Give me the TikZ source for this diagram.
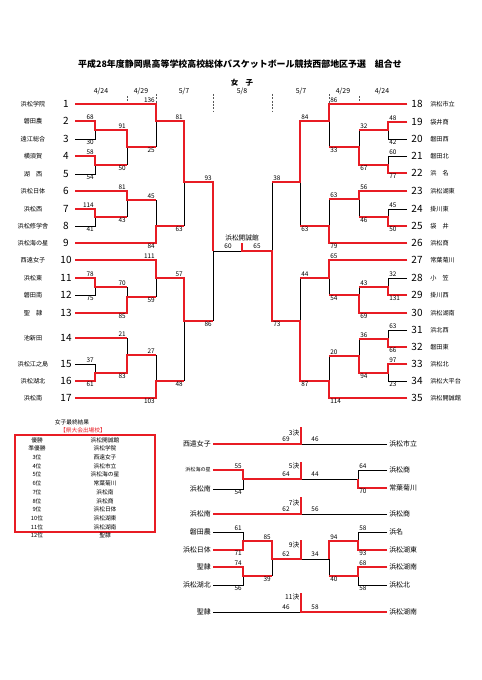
\documentclass[tikz,border=0pt]{standalone}
\usepackage{fontspec}
\setmainfont{Noto Sans CJK JP}
\definecolor{winred}{RGB}{232,28,36}

\begin{document}
\begin{tikzpicture}[
  x=0.75pt,
  y=-0.75pt,
  bracket/.style={draw=black, line width=0.6pt},
  winner/.style={draw=winred, line width=1.25pt},
  datetick/.style={draw=black!65, dash pattern=on 1.6pt off 0.9pt, line width=0.45pt},
  maintitle/.style={font=\fontsize{6.7}{8}\selectfont\bfseries, inner sep=0pt},
  datelabel/.style={font=\fontsize{5.2}{6}\selectfont, inner sep=0pt},
  seedno/.style={font=\fontsize{7.5}{8}\selectfont, inner sep=0pt},
  team/.style={font=\fontsize{4.6}{5}\selectfont, inner sep=0pt},
  lowteam/.style={font=\fontsize{5.2}{6}\selectfont, inner sep=0pt},
  score/.style={font=\fontsize{4.8}{5}\selectfont, inner sep=0.8pt},
  scoreul/.style={score, anchor=south east},
  scorell/.style={score, anchor=north east},
  scoreur/.style={score, anchor=south west},
  scorelr/.style={score, anchor=north west},
  scoremid/.style={score, anchor=south},
  rankmatch/.style={font=\fontsize{5}{6}\selectfont, inner sep=0pt, anchor=east},
  result/.style={font=\fontsize{4.3}{5}\selectfont, inner sep=0pt}
]
\path[use as bounding box, fill=white] (0,0) rectangle (481,680);

% ---------------------------------------------------------------------------
% Heading and round dates
% ---------------------------------------------------------------------------
\node[maintitle] (title) at (240,64) {平成28年度静岡県高等学校高校総体バスケットボール競技西部地区予選　組合せ};
\node[datelabel, font=\fontsize{5.6}{6}\selectfont\bfseries] (girls) at (242,83) {女　子};
\node[datelabel] (d1) at (101,91) {4/24};
\node[datelabel] (d2) at (141,91) {4/29};
\node[datelabel] (d3) at (184,91) {5/7};
\node[datelabel] (d4) at (242,91) {5/8};
\node[datelabel] (d5) at (301,91) {5/7};
\node[datelabel] (d6) at (343,91) {4/29};
\node[datelabel] (d7) at (382,91) {4/24};
\draw[datetick] (127,96) -- (127,101);
\draw[datetick] (156,94) -- (156,103);
\draw[datetick] (213,94) -- (213,112);
\draw[datetick] (272,94) -- (272,112);
\draw[datetick] (329,94) -- (329,103);
\draw[datetick] (359,96) -- (359,101);

% ---------------------------------------------------------------------------
% Seeds
% ---------------------------------------------------------------------------
\foreach \n/\y/\sch in {1/104/浜松学院, 2/121/磐田農, 3/139/遠江総合, 4/156/横須賀,
    5/174/湖　西, 6/191/浜松日体, 7/209/浜松西, 8/226/浜松修学舎, 9/243/浜松海の星,
    10/260/西遠女子, 11/278/浜松東, 12/295/磐田南, 13/313/聖　隷, 14/338/池新田,
    15/364/浜松江之島, 16/381/浜松湖北, 17/398/浜松南} {
  \node[seedno] (s\n) at (66,\y) {\n};
  \node[team] (t\n) at (33,\y) {\sch};
}
\foreach \n/\y/\sch in {18/104/浜松市立, 19/122/袋井商, 20/139/磐田西, 21/156/磐田北,
    22/173/浜　名, 23/191/浜松湖東, 24/209/掛川東, 25/226/袋　井, 26/243/浜松商,
    27/260/常葉菊川, 28/278/小　笠, 29/295/掛川西, 30/313/浜松湖南, 31/330/浜北西,
    32/347/磐田東, 33/364/浜松北, 34/381/浜松大平台, 35/398/浜松開誠館} {
  \node[seedno] (s\n) at (417,\y) {\n};
  \node[team, anchor=west] (t\n) at (430,\y) {\sch};
}

% ---------------------------------------------------------------------------
% Left half: bracket lines
% ---------------------------------------------------------------------------
\draw[bracket] (75,121) -| (95,139) -- (75,139) (95,130) -- (127,130);
\draw[bracket] (75,156) -| (95,174) -- (75,174) (95,165) -- (127,165);
\draw[bracket] (75,209) -| (95,226) -- (75,226) (95,217) -- (127,217);
\draw[bracket] (75,278) -| (95,295) -- (75,295) (95,287) -- (127,287);
\draw[bracket] (75,364) -| (95,381) -- (75,381) (95,373) -- (127,373);
\draw[bracket] (127,130) -- (127,165) (127,147) -- (156,147);
\draw[bracket] (75,191) -| (127,217) (127,200) -- (156,200);
\draw[bracket] (75,313) -| (127,287) (127,297) -- (156,297);
\draw[bracket] (75,338) -| (127,373) (127,355) -- (156,355);
\draw[bracket] (75,104) -| (156,147) (156,121) -- (184,121);
\draw[bracket] (75,243) -| (156,200) (156,226) -- (184,226);
\draw[bracket] (75,260) -| (156,297) (156,278) -- (184,278);
\draw[bracket] (75,398) -| (156,355) (156,381) -- (184,381);
\draw[bracket] (184,121) -- (184,226) (184,182) -- (213,182);
\draw[bracket] (184,278) -- (184,381) (184,321) -- (213,321);
\draw[bracket] (213,182) -- (213,321) (213,251) -- (272,251);

% winners' paths
\draw[winner] (75,104) -| (156,121) -| (184,182) -| (213,251);
\draw[winner] (75,121) -| (95,130) -| (127,147) -- (156,147);
\draw[winner] (75,156) -| (95,165) -- (127,165);
\draw[winner] (75,191) -| (127,200) -- (156,200);
\draw[winner] (75,209) -| (95,217) -- (127,217);
\draw[winner] (75,243) -| (156,226) -- (184,226);
\draw[winner] (75,260) -| (156,278) -| (184,321) -- (213,321);
\draw[winner] (75,278) -| (95,287) -- (127,287);
\draw[winner] (75,313) -| (127,297) -- (156,297);
\draw[winner] (75,338) -- (127,338);
\draw[winner] (75,381) -| (95,373) -| (127,355) -- (156,355);
\draw[winner] (75,398) -| (156,381) -- (184,381);

% scores
\node[scoreul] at (95,121) {68};  \node[scorell] at (95,139) {30};
\node[scoreul] at (95,156) {58};  \node[scorell] at (95,174) {54};
\node[scoreul] at (127,130) {91}; \node[scorell] at (127,165) {50};
\node[scoreul] at (156,104) {136}; \node[scorell] at (156,147) {25};
\node[scoreul] at (127,191) {81}; \node[scorell] at (127,217) {43};
\node[scoreul] at (95,209) {114}; \node[scorell] at (95,226) {41};
\node[scoreul] at (156,200) {45}; \node[scorell] at (156,243) {84};
\node[scoreul] at (184,121) {81}; \node[scorell] at (184,226) {63};
\node[scoreul] at (156,260) {111}; \node[scorell] at (156,297) {59};
\node[scoreul] at (95,278) {78};  \node[scorell] at (95,295) {75};
\node[scoreul] at (127,287) {70}; \node[scorell] at (127,313) {85};
\node[scoreul] at (127,338) {21}; \node[scorell] at (127,373) {83};
\node[scoreul] at (95,364) {37};  \node[scorell] at (95,381) {61};
\node[scoreul] at (156,355) {27}; \node[scorell] at (156,398) {103};
\node[scoreul] at (184,278) {57}; \node[scorell] at (184,381) {48};
\node[scoreul] at (213,182) {93}; \node[scorell] at (213,321) {86};

% ---------------------------------------------------------------------------
% Right half: bracket lines
% ---------------------------------------------------------------------------
\draw[bracket] (407,122) -| (388,139) -- (407,139) (388,130) -- (359,130);
\draw[bracket] (407,156) -| (388,173) -- (407,173) (388,165) -- (359,165);
\draw[bracket] (407,209) -| (388,226) -- (407,226) (388,217) -- (359,217);
\draw[bracket] (407,278) -| (388,295) -- (407,295) (388,287) -- (359,287);
\draw[bracket] (407,330) -| (388,347) -- (407,347) (388,339) -- (359,339);
\draw[bracket] (407,364) -| (388,381) -- (407,381) (388,373) -- (359,373);
\draw[bracket] (359,130) -- (359,165) (359,147) -- (329,147);
\draw[bracket] (407,191) -| (359,217) (359,199) -- (329,199);
\draw[bracket] (407,313) -| (359,287) (359,295) -- (329,295);
\draw[bracket] (359,339) -- (359,373) (359,356) -- (329,356);
\draw[bracket] (407,104) -| (329,147) (329,121) -- (300,121);
\draw[bracket] (407,243) -| (329,199) (329,226) -- (300,226);
\draw[bracket] (407,260) -| (329,295) (329,278) -- (300,278);
\draw[bracket] (407,398) -| (329,356) (329,381) -- (300,381);
\draw[bracket] (300,121) -- (300,226) (300,182) -- (272,182);
\draw[bracket] (300,278) -- (300,381) (300,321) -- (272,321);
\draw[bracket] (272,182) -- (272,321);

% winners' paths
\draw[winner] (407,104) -| (329,121) -| (300,182) -- (272,182);
\draw[winner] (407,122) -| (388,130) -- (359,130);
\draw[winner] (407,173) -| (388,165) -| (359,147) -- (329,147);
\draw[winner] (407,191) -| (359,199) -- (329,199);
\draw[winner] (407,226) -| (388,217) -- (359,217);
\draw[winner] (407,243) -| (329,226) -- (300,226);
\draw[winner] (407,260) -| (329,278) -- (300,278);
\draw[winner] (407,295) -| (388,287) -- (359,287);
\draw[winner] (407,313) -| (359,295) -- (329,295);
\draw[winner] (407,347) -| (388,339) -- (359,339);
\draw[winner] (407,364) -| (388,373) -| (359,356) -- (329,356);
\draw[winner] (407,398) -| (329,381) -| (300,321) -| (272,251) -- (242,251) -- (242,243);

% scores
\node[scoreur] at (388,122) {48}; \node[scorelr] at (388,139) {42};
\node[scoreur] at (388,156) {60}; \node[scorelr] at (388,173) {77};
\node[scoreur] at (359,130) {32}; \node[scorelr] at (359,165) {67};
\node[scoreur] at (329,104) {86}; \node[scorelr] at (329,147) {33};
\node[scoreur] at (388,209) {45}; \node[scorelr] at (388,226) {50};
\node[scoreur] at (359,191) {56}; \node[scorelr] at (359,217) {46};
\node[scoreur] at (329,199) {63}; \node[scorelr] at (329,243) {79};
\node[scoreur] at (300,121) {84}; \node[scorelr] at (300,226) {63};
\node[scoreur] at (388,278) {32}; \node[scorelr] at (388,295) {131};
\node[scoreur] at (359,287) {43}; \node[scorelr] at (359,313) {69};
\node[scoreur] at (329,260) {65}; \node[scorelr] at (329,295) {54};
\node[scoreur] at (388,330) {63}; \node[scorelr] at (388,347) {66};
\node[scoreur] at (388,364) {97}; \node[scorelr] at (388,381) {23};
\node[scoreur] at (359,339) {36}; \node[scorelr] at (359,373) {94};
\node[scoreur] at (329,356) {20}; \node[scorelr] at (329,398) {114};
\node[scoreur] at (300,278) {44}; \node[scorelr] at (300,381) {87};
\node[scoreur] at (272,182) {38}; \node[scorelr] at (272,321) {73};

% final
\node[lowteam, font=\fontsize{5}{6}\selectfont] (champ) at (242,238) {浜松開誠館};
\node[scoremid] at (228,250) {60};
\node[scoremid] at (257,250) {65};

% ---------------------------------------------------------------------------
% Final standings
% ---------------------------------------------------------------------------
\node[result] (restitle) at (72,422) {女子最終結果};
\node[result, text=winred] (resnote) at (83,430) {【県大会出場校】};
\draw[winred, line width=0.9pt] (15,435) rectangle (155,532);
\foreach \i/\rk/\sch in {0/優勝/浜松開誠館, 1/準優勝/浜松学院, 2/3位/西遠女子,
    3/4位/浜松市立, 4/5位/浜松海の星, 5/6位/常葉菊川, 6/7位/浜松南, 7/8位/浜松商,
    8/9位/浜松日体, 9/10位/浜松湖東, 10/11位/浜松湖南, 11/12位/聖隷} {
  \node[result] (rk\i) at (37,440+8.7*\i) {\rk};
  \node[result] (rs\i) at (105,440+8.7*\i) {\sch};
}

% ---------------------------------------------------------------------------
% Placing matches
% ---------------------------------------------------------------------------
% 3rd place
\draw[bracket] (213,444) -- (387,444);
\draw[winner] (213,444) -- (301,444) -- (301,427);
\node[lowteam, anchor=east] (p3l) at (211,444) {西遠女子};
\node[lowteam, anchor=west] (p3r) at (389,444) {浜松市立};
\node[rankmatch] at (299.5,433) {3決};
\node[scoremid] at (286,443) {69};
\node[scoremid] at (315,443) {46};

% 5th place
\draw[bracket] (213,470) -| (243,489) -- (213,489) (243,479) -- (358,479);
\draw[bracket] (387,470) -| (358,488) -- (387,488);
\draw[winner] (213,470) -| (243,479) -- (301,479) -- (301,462);
\draw[winner] (387,488) -| (358,479);
\node[lowteam, anchor=east, font=\fontsize{3.8}{4}\selectfont] (p5a) at (211,470) {浜松海の星};
\node[lowteam, anchor=east] (p5b) at (211,489) {浜松南};
\node[lowteam, anchor=west] (p5c) at (389,470) {浜松商};
\node[lowteam, anchor=west] (p5d) at (389,488) {常葉菊川};
\node[rankmatch] at (299.5,466) {5決};
\node[scoreul] at (243,470) {55}; \node[scorell] at (243,489) {54};
\node[scoremid] at (286,478) {64};
\node[scoremid] at (315,478) {44};
\node[scoreur] at (358,470) {64}; \node[scorelr] at (358,488) {70};

% 7th place
\draw[bracket] (213,514) -- (387,514);
\draw[winner] (213,514) -- (301,514) -- (301,497);
\node[lowteam, anchor=east] (p7l) at (211,514) {浜松南};
\node[lowteam, anchor=west] (p7r) at (389,514) {浜松商};
\node[rankmatch] at (299.5,503) {7決};
\node[scoremid] at (286,513) {62};
\node[scoremid] at (315,513) {56};

% 9th place
\draw[bracket] (213,532) -| (243,550) -- (213,550) (243,541) -- (272,541);
\draw[bracket] (213,567) -| (243,585) -- (213,585) (243,576) -- (272,576);
\draw[bracket] (272,541) -- (272,576) (272,559) -- (329,559);
\draw[bracket] (387,532) -| (358,550) -- (387,550) (358,541) -- (329,541);
\draw[bracket] (387,567) -| (358,585) -- (387,585) (358,576) -- (329,576);
\draw[bracket] (329,541) -- (329,576);
\draw[winner] (213,550) -| (243,541) -| (272,559) -- (301,559) -- (301,540);
\draw[winner] (213,567) -| (243,576) -- (272,576);
\draw[winner] (387,550) -| (358,541) -| (329,559);
\draw[winner] (387,567) -| (358,576) -- (329,576);
\node[lowteam, anchor=east] (p9a) at (211,532) {磐田農};
\node[lowteam, anchor=east] (p9b) at (211,550) {浜松日体};
\node[lowteam, anchor=east] (p9c) at (211,567) {聖隷};
\node[lowteam, anchor=east] (p9d) at (211,585) {浜松湖北};
\node[lowteam, anchor=west] (p9e) at (389,532) {浜名};
\node[lowteam, anchor=west] (p9f) at (389,550) {浜松湖東};
\node[lowteam, anchor=west] (p9g) at (389,567) {浜松湖南};
\node[lowteam, anchor=west] (p9h) at (389,585) {浜松北};
\node[rankmatch] at (299.5,545) {9決};
\node[scoreul] at (243,532) {61}; \node[scorell] at (243,550) {71};
\node[scoreul] at (243,567) {74}; \node[scorell] at (243,585) {56};
\node[scoreul] at (272,541) {85}; \node[scorell] at (272,576) {39};
\node[scoremid] at (286,558) {62};
\node[scoremid] at (315,558) {34};
\node[scoreur] at (329,541) {94}; \node[scorelr] at (329,576) {40};
\node[scoreur] at (358,532) {58}; \node[scorelr] at (358,550) {93};
\node[scoreur] at (358,567) {68}; \node[scorelr] at (358,585) {58};

% 11th place
\draw[bracket] (213,612) -- (387,612);
\draw[winner] (301,593) -- (301,612) -- (387,612);
\node[lowteam, anchor=east] (p11l) at (211,612) {聖隷};
\node[lowteam, anchor=west] (p11r) at (389,612) {浜松湖南};
\node[rankmatch] at (299.5,597) {11決};
\node[scoremid] at (286,611) {46};
\node[scoremid] at (315,611) {58};

\end{tikzpicture}
\end{document}
